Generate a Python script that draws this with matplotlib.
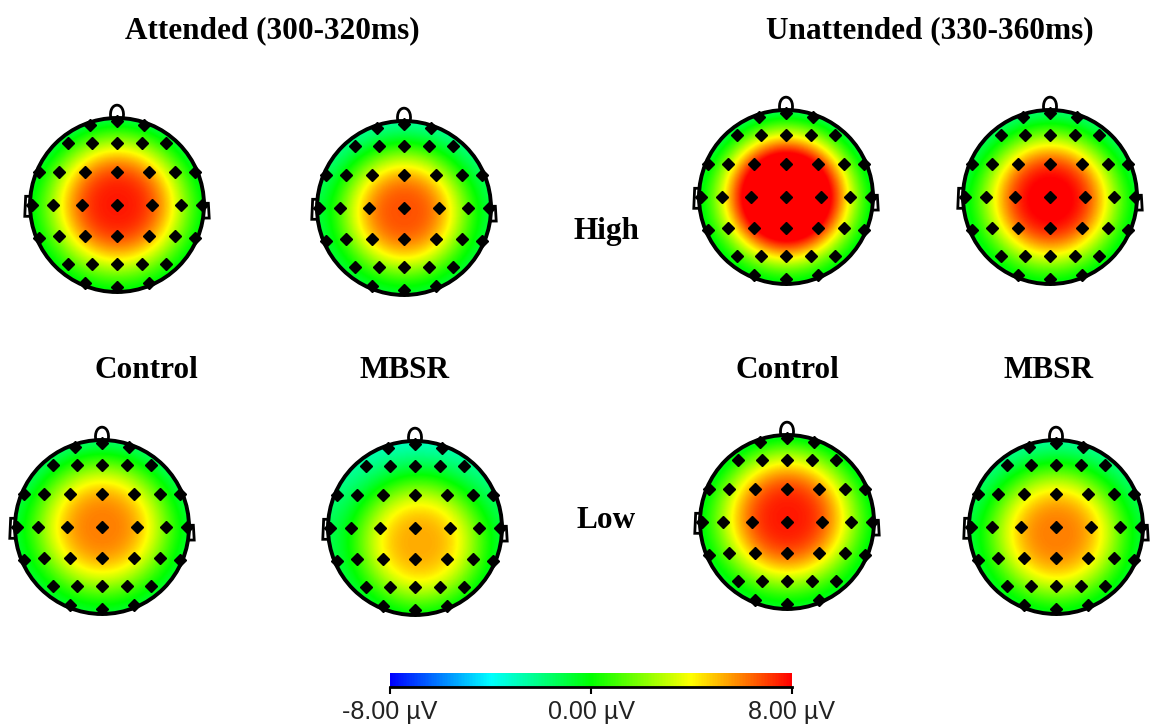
import numpy as np
import matplotlib
matplotlib.use("Agg")
import matplotlib.pyplot as plt
from matplotlib.colors import LinearSegmentedColormap, Normalize
from matplotlib.cm import ScalarMappable
from matplotlib.patches import Circle, PathPatch
from matplotlib.path import Path

# ---- data ----
titles = ["Attended (300-320ms)", "Unattended (330-360ms)"]
group_labels = ["Control", "MBSR", "Control", "MBSR"]
load_labels = ["High", "Low"]

# order: att-ctrl-high, att-mbsr-high, unatt-ctrl-high, unatt-mbsr-high,
#        att-ctrl-low,  att-mbsr-low,  unatt-ctrl-low,  unatt-mbsr-low
peak_uv = [7.6, 6.7, 11.5, 8.3, 6.0, 5.3, 7.6, 6.0]
peak_dx = [0.0, 0.0, 0.0, 0.0, 0.0, 0.05, 0.0, 0.0]
peak_dy = [0.0, -0.05, 0.0, -0.03, 0.0, -0.17, 0.05, -0.08]
spread = [0.80, 0.72, 0.75, 0.76, 0.77, 0.72, 0.80, 0.75]
edge_uv = -1.5
front_drop = 0.6   # scalp a bit more negative towards the nose
falloff = 3.0

cbar_ticks = [-8, 0, 8]
cbar_labels = ["-8.00 \u00b5V", "0.00 \u00b5V", "8.00 \u00b5V"]

# ---- layout (pixels) ----
map_cx = [117, 404, 786, 1050, 102, 415, 787, 1056]
map_cy = [205, 208, 197, 197, 527, 528, 522, 527]
R = 87

# electrode layout on a unit head (y up)
inner_rows = [(0.71, [0.56, 0.29]), (0.385, [0.67, 0.365]), (0.0, [0.73, 0.40]),
              (-0.36, [0.67, 0.365]), (-0.68, [0.56, 0.29])]
ring = [(90, 0.96), (71, 0.97), (109, 0.97), (157, 0.98), (180, 0.98), (203, 0.98),
        (248, 0.97), (270, 0.94), (292, 0.97), (337, 0.98), (0, 0.98), (23, 0.98)]

elec_u, elec_v = [], []
for yv, xs in inner_rows:
    for xv in [-xs[0], -xs[1], 0.0, xs[1], xs[0]]:
        elec_u.append(xv)
        elec_v.append(yv)
for ang, rad in ring:
    elec_u.append(rad * np.cos(np.radians(ang)))
    elec_v.append(rad * np.sin(np.radians(ang)))
elec_u = np.array(elec_u)
elec_v = np.array(elec_v)

cmap = LinearSegmentedColormap.from_list(
    "topo", ["#0000ff", "#00ffff", "#00ff00", "#ffff00", "#ff0000"])
norm = Normalize(vmin=-8, vmax=8)

fig = plt.figure(figsize=(11.5, 7.24), dpi=100)
ax = fig.add_axes([0, 0, 1, 1])
ax.set_xlim(0, 1150)
ax.set_ylim(724, 0)
ax.axis("off")


def draw_head(cx, cy, peak, dx, dy, s):
    n = 220
    u = np.linspace(-1.05, 1.05, n)
    v = np.linspace(1.05, -1.05, n)
    uu, vv = np.meshgrid(u, v)
    r = np.hypot(uu - dx, vv - dy)
    field = edge_uv + (peak - edge_uv) * np.exp(-(r / s) ** falloff)
    field = field - front_drop * np.clip(vv, 0, None) * (r / s) ** 2
    img = ax.imshow(field, cmap=cmap, norm=norm, interpolation="bilinear",
                    extent=(cx - 1.05 * R, cx + 1.05 * R, cy + 1.05 * R, cy - 1.05 * R),
                    zorder=1)
    clip = Circle((cx, cy), 1.015 * R, transform=ax.transData)
    img.set_clip_path(clip)

    ax.add_patch(Circle((cx, cy), R, fill=False, lw=2.8, ec="black", zorder=3))

    # nose
    nose = Path([(cx - 0.07 * R, cy - 0.99 * R), (cx - 0.11 * R, cy - 1.2 * R),
                 (cx + 0.11 * R, cy - 1.2 * R), (cx + 0.07 * R, cy - 0.99 * R)],
                [Path.MOVETO, Path.CURVE4, Path.CURVE4, Path.CURVE4])
    ax.add_patch(PathPatch(nose, fill=False, lw=2.0, ec="black", zorder=3))

    # ears
    for side, top, bot in [(-1, 0.10, -0.13), (1, 0.02, -0.15)]:
        ear = Path([(cx + side * 1.0 * R, cy - top * R),
                    (cx + side * 1.05 * R, cy - top * R),
                    (cx + side * 1.06 * R, cy - bot * R),
                    (cx + side * 1.0 * R, cy - bot * R)])
        ax.add_patch(PathPatch(ear, fill=False, lw=2.0, ec="black", zorder=3))

    ax.plot(cx + elec_u * R, cy - elec_v * R, ls="none", marker="D", ms=5.8,
            mfc="black", mec="black", zorder=4)


for i in range(8):
    draw_head(map_cx[i], map_cy[i], peak_uv[i], peak_dx[i], peak_dy[i], spread[i])

serif = dict(family="Liberation Serif", weight="bold", fontsize=22.5,
             ha="center", va="center")
ax.text(272, 31, titles[0], **serif)
ax.text(930, 31, titles[1], **serif)
ax.text(607, 232, load_labels[0], **serif)
ax.text(606, 521, load_labels[1], **serif)
for x, lab in zip([146, 404, 787, 1049], group_labels):
    ax.text(x, 370, lab, **serif)

# colour bar
cax = fig.add_axes([390 / 1150, 1 - 687 / 724, 402 / 1150, 14 / 724])
cb = fig.colorbar(ScalarMappable(norm=norm, cmap=cmap), cax=cax,
                  orientation="horizontal", ticks=cbar_ticks)
cb.outline.set_visible(False)
cax.axhline(0, color="black", lw=2, clip_on=False)
cax.tick_params(axis="x", direction="out", length=5, width=1.5, color="black", pad=4)
cax.set_xticklabels(cbar_labels, family="Liberation Sans", fontsize=18, color="#222222")

fig.savefig("out.png", dpi=100)
